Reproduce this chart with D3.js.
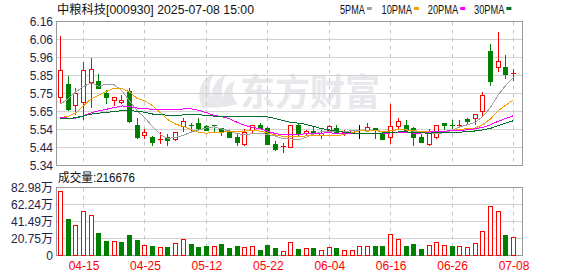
<!DOCTYPE html>
<html><head><meta charset="utf-8">
<script src="https://cdn.jsdelivr.net/npm/d3@7/dist/d3.min.js"></script>
<style>body{margin:0;background:#fff;}svg{display:block;}</style>
</head><body>
<svg id="c" width="578" height="276"></svg>
<script>
// ---------------- data ----------------
const dates = ["04-10","04-11","04-14","04-15","04-16","04-17","04-18","04-21","04-22","04-23","04-24","04-25","04-28","04-29","04-30",
"05-06","05-07","05-08","05-09","05-12","05-13","05-14","05-15","05-16","05-19","05-20","05-21","05-22","05-23","05-26","05-27","05-28","05-29","05-30",
"06-03","06-04","06-05","06-06","06-09","06-10","06-11","06-12","06-13","06-16","06-17","06-18","06-19","06-20","06-23","06-24","06-25","06-26","06-27","06-30",
"07-01","07-02","07-03","07-04","07-07","07-08"];
const open  = [5.73,5.80,5.68,5.70,5.81,5.82,5.75,5.71,5.70,5.76,5.57,5.51,5.50,5.48,5.50,5.49,5.56,5.57,5.58,5.56,5.57,5.55,5.53,5.50,5.46,5.54,5.57,5.55,5.46,5.44,
               5.44,5.57,5.52,5.535,5.51,5.54,5.55,5.52,5.53,5.54,5.54,5.55,5.52,5.50,5.56,5.57,5.55,5.50,5.46,5.50,5.58,5.57,5.565,5.60,5.61,5.65,5.99,5.90,5.90,5.857];
const high  = [6.08,5.85,5.78,5.93,5.95,5.86,5.77,5.73,5.74,5.78,5.61,5.55,5.51,5.53,5.52,5.53,5.61,5.58,5.61,5.57,5.57,5.55,5.54,5.52,5.55,5.57,5.58,5.56,5.48,5.47,
               5.57,5.58,5.54,5.56,5.54,5.57,5.57,5.54,5.54,5.57,5.58,5.55,5.53,5.69,5.61,5.60,5.56,5.52,5.55,5.57,5.58,5.60,5.60,5.61,5.63,5.76,6.03,6.10,5.97,5.89];
const low   = [5.69,5.65,5.63,5.60,5.67,5.78,5.69,5.68,5.69,5.58,5.49,5.49,5.45,5.46,5.45,5.48,5.53,5.53,5.54,5.54,5.53,5.51,5.50,5.45,5.45,5.52,5.55,5.46,5.42,5.41,
               5.44,5.50,5.51,5.51,5.49,5.53,5.52,5.51,5.53,5.49,5.54,5.49,5.49,5.46,5.54,5.54,5.45,5.47,5.45,5.49,5.54,5.55,5.565,5.57,5.57,5.62,5.79,5.87,5.83,5.82];
const close = [5.88,5.66,5.75,5.88,5.885,5.78,5.725,5.73,5.71,5.59,5.50,5.53,5.47,5.49,5.48,5.53,5.59,5.56,5.55,5.54,5.56,5.53,5.50,5.47,5.53,5.57,5.55,5.46,5.43,5.45,
               5.57,5.52,5.535,5.52,5.525,5.56,5.53,5.535,5.54,5.54,5.555,5.54,5.49,5.56,5.59,5.54,5.50,5.47,5.53,5.565,5.57,5.565,5.57,5.59,5.63,5.74,5.82,5.93,5.86,5.862];
// volume in 万手
const volume = [77.8,44.1,36.1,53.5,48.6,26.7,17.0,16.6,15.8,23.9,18.2,11.8,10.9,9.3,9.7,14.2,19.1,13.4,10.1,11.3,11.3,13.4,8.9,11.3,9.7,11.3,6.5,12.1,8.5,4.5,
                15.8,7.3,8.5,8.5,5.7,9.7,8.5,6.1,6.1,10.9,11.3,11.3,10.9,25.1,19.1,10.9,13.4,7.3,11.8,15.4,11.8,10.9,10.9,9.3,14.2,28.8,60.4,53.1,24.3,21.9];
// closes of the 29 sessions before the first visible day (needed for the moving averages)
const priorCloses = [5.60,5.58,5.57,5.59,5.62,5.60,5.58,5.57,5.59,5.59,5.72,5.76,5.60,5.56,5.54,5.55,5.53,5.54,5.64,5.69,
                     5.59,5.55,5.48,5.48,5.58,5.51,5.55,5.73,5.78];
const priceTickLabels = ["5.34","5.44","5.54","5.65","5.75","5.85","5.96","6.06","6.16"];
const volTickLabels = ["0","20.75万","41.49万","62.24万","82.98万"];
const dateTickLabels = ["04-15","04-25","05-12","05-22","06-04","06-16","06-26","07-08"];
const maPeriods = [5,10,20,30];
const maNames = ["5PMA","10PMA","20PMA","30PMA"];
const maColors = ["#a0a0a0","#f5a000","#ff00ff","#00702a"];
const titleText = "中粮科技[000930] 2025-07-08 15:00";
const volLabel = "成交量:216676";

// ---------------- layout ----------------
const svg = d3.select("#c");
const L = 56.5, R = 522.5, PT = 21.5, PB = 165.5, VT = 187.5, VB = 255.5;
const RED = "#ff0000", GREEN = "#008000";
const x = d3.scalePoint().domain(dates).range([60.5, 513.5]);
const cx = d => Math.floor(x(d)) + 0.5;
const y = d3.scaleLinear().domain([5.34, 6.16]).range([PB, PT]);
const yv = d3.scaleLinear().domain([0, 82.98]).range([VB, VT]);
const priceTicks = d3.range(9).map(i => 5.34 + i * 0.82 / 8);
const volTicks = d3.range(5).map(i => i * 82.98 / 4);
const ry = v => Math.round(v - 0.5) + 0.5;

const font = "'Liberation Sans', Arial, 'Noto Sans CJK SC', sans-serif";
const cjk = "'Noto Sans CJK SC', 'Liberation Sans', sans-serif";

// watermark
const wm = svg.append("g").attr("fill", "#e7e7ec");
wm.append("path").attr("d", "M203,108 C196,96 199,80 214,73 C208,83 208,97 216,107 Z");
wm.append("path").attr("d", "M214,108 C208,96 212,82 226,74 C220,85 220,97 228,106 Z");
wm.append("path").attr("d", "M225,107 C221,97 224,86 235,80 C231,90 232,99 238,104 Z");
wm.append("text").attr("x", 240).attr("y", 106).attr("font-family", cjk).attr("font-weight", "bold")
  .attr("font-size", 37).attr("textLength", 140).attr("lengthAdjust", "spacingAndGlyphs").text("东方财富");

// grid
function panelGrid(top, bottom, scale, ticks) {
  svg.append("g").selectAll("line").data(ticks).join("line")
    .attr("x1", L).attr("x2", R).attr("y1", d => ry(scale(d))).attr("y2", d => ry(scale(d)))
    .attr("stroke", "#d2d2d2").attr("stroke-width", 1);
  svg.append("g").selectAll("line").data(dateTickLabels).join("line")
    .attr("x1", d => cx(d)).attr("x2", d => cx(d)).attr("y1", top).attr("y2", bottom)
    .attr("stroke", "#c8c8c8").attr("stroke-dasharray", "4,4");
  svg.append("rect").attr("x", L).attr("y", top).attr("width", R - L).attr("height", bottom - top)
    .attr("fill", "none").attr("stroke", "#9a9a9a");
}
panelGrid(PT, PB, y, priceTicks);
panelGrid(VT, VB, yv, volTicks);

// axes labels via d3 axes
const axP = svg.append("g").attr("transform", `translate(53,0)`)
  .call(d3.axisLeft(y).tickValues(priceTicks).tickSize(0).tickPadding(0).tickFormat((d, i) => priceTickLabels[i]));
const axV = svg.append("g").attr("transform", `translate(53,0)`)
  .call(d3.axisLeft(yv).tickValues(volTicks).tickSize(0).tickPadding(0).tickFormat((d, i) => volTickLabels[i]));
const axX = svg.append("g").attr("transform", `translate(0,${VB + 5})`)
  .call(d3.axisBottom(x).tickValues(dateTickLabels).tickSize(0).tickPadding(0));
[axP, axV, axX].forEach(a => { a.select(".domain").remove(); a.selectAll("text").attr("font-family", font).attr("font-size", 12); });
axP.selectAll("text").attr("fill", "#1c2448");
axV.selectAll("text").attr("fill", "#1c2448");
axX.selectAll("text").attr("fill", RED).attr("dy", "0.8em");

// candles
const idx = d3.range(dates.length);
const cg = svg.append("g").attr("shape-rendering", "crispEdges");
idx.forEach(i => {
  const o = open[i], c = close[i], h = high[i], l = low[i];
  const col = c > o ? RED : (c < o ? GREEN : "#000");
  const px = cx(dates[i]);
  const yTop = ry(y(Math.max(o, c))), yBot = ry(y(Math.min(o, c)));
  if (c > o && yBot - yTop >= 2) {
    if (y(h) < yTop) cg.append("line").attr("x1", px).attr("x2", px).attr("y1", y(h)).attr("y2", yTop).attr("stroke", col);
    if (y(l) > yBot) cg.append("line").attr("x1", px).attr("x2", px).attr("y1", yBot).attr("y2", y(l)).attr("stroke", col);
    cg.append("rect").attr("x", px - 2).attr("y", yTop).attr("width", 4).attr("height", yBot - yTop)
      .attr("fill", "#fff").attr("stroke", col);
  } else {
    cg.append("line").attr("x1", px).attr("x2", px).attr("y1", y(h)).attr("y2", y(l)).attr("stroke", col);
    if (yBot - yTop >= 2) {
      cg.append("rect").attr("x", px - 2.5).attr("y", yTop - 0.5).attr("width", 5).attr("height", yBot - yTop + 1).attr("fill", col);
    } else {
      cg.append("line").attr("x1", px - 2.5).attr("x2", px + 2.5).attr("y1", yTop).attr("y2", yTop).attr("stroke", col);
    }
  }
});

// moving averages
const allClose = priorCloses.concat(close);
const off = priorCloses.length;
maPeriods.forEach((p, k) => {
  const vals = idx.map(i => d3.mean(allClose.slice(off + i - p + 1, off + i + 1)));
  svg.append("path").datum(vals)
    .attr("d", d3.line().x((d, i) => x(dates[i])).y(d => y(d)))
    .attr("fill", "none").attr("stroke", maColors[k]).attr("stroke-width", 1)
    .attr("shape-rendering", "crispEdges");
});

// volume bars (colour by change from previous close)
const vg = svg.append("g").attr("shape-rendering", "crispEdges");
idx.forEach(i => {
  const prev = i === 0 ? priorCloses[priorCloses.length - 1] : close[i - 1];
  const up = close[i] >= prev;
  const px = cx(dates[i]);
  const top = ry(yv(volume[i]));
  if (up) vg.append("rect").attr("x", px - 2).attr("y", top).attr("width", 4).attr("height", VB - top).attr("fill", "#fff").attr("stroke", RED);
  else vg.append("rect").attr("x", px - 2.5).attr("y", top - 0.5).attr("width", 5).attr("height", VB - top + 0.5).attr("fill", GREEN);
});

// title and legend
svg.append("text").attr("x", 57).attr("y", 13.5).attr("font-family", font).attr("font-size", 12).attr("fill", "#111")
  .attr("textLength", 197).attr("lengthAdjust", "spacingAndGlyphs").text(titleText);
const legX = [340, 381.5, 427.8, 474];
const legW = [24.8, 30.4, 30.4, 30.4];
maNames.forEach((n, k) => {
  svg.append("text").attr("x", legX[k]).attr("y", 13.5).attr("font-family", font).attr("font-size", 12).attr("fill", "#111")
    .attr("textLength", legW[k]).attr("lengthAdjust", "spacingAndGlyphs").text(n);
  svg.append("rect").attr("x", legX[k] + legW[k] + 2).attr("y", 7).attr("width", 5).attr("height", 3).attr("fill", maColors[k]);
});
svg.append("text").attr("x", 58).attr("y", 182).attr("font-family", font).attr("font-size", 12).attr("fill", "#111")
  .attr("textLength", 77).attr("lengthAdjust", "spacingAndGlyphs").text(volLabel);
</script>
</body></html>
